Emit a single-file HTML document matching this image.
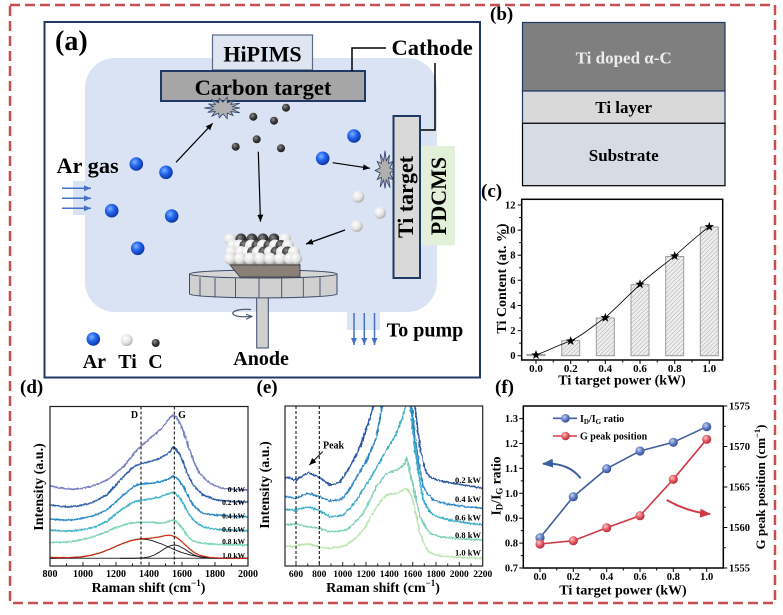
<!DOCTYPE html>
<html><head><meta charset="utf-8">
<style>
html,body{margin:0;padding:0;background:#fff;}
svg{display:block;}
text{font-family:"Liberation Serif","DejaVu Serif",serif;font-weight:bold;}
</style></head><body>
<svg width="783" height="615" viewBox="0 0 783 615" xmlns="http://www.w3.org/2000/svg">
<defs>
 <radialGradient id="gb" cx="0.38" cy="0.35" r="0.7"><stop offset="0" stop-color="#7fb0ff"/><stop offset="0.45" stop-color="#2266ee"/><stop offset="1" stop-color="#0a2f9a"/></radialGradient>
 <radialGradient id="gw" cx="0.38" cy="0.35" r="0.75"><stop offset="0" stop-color="#ffffff"/><stop offset="0.55" stop-color="#e4e4e4"/><stop offset="1" stop-color="#9c9c9c"/></radialGradient>
 <radialGradient id="gd" cx="0.38" cy="0.35" r="0.75"><stop offset="0" stop-color="#8c8c8c"/><stop offset="0.5" stop-color="#3a3a3a"/><stop offset="1" stop-color="#111"/></radialGradient>
 <radialGradient id="fb" cx="0.38" cy="0.35" r="0.75"><stop offset="0" stop-color="#c8d4f0"/><stop offset="0.5" stop-color="#5a78c0"/><stop offset="1" stop-color="#2a4590"/></radialGradient>
 <radialGradient id="fr" cx="0.38" cy="0.35" r="0.75"><stop offset="0" stop-color="#f8c8c8"/><stop offset="0.5" stop-color="#e05560"/><stop offset="1" stop-color="#a82030"/></radialGradient>
 <marker id="ah" markerWidth="8" markerHeight="7" refX="7" refY="3" orient="auto" markerUnits="userSpaceOnUse"><path d="M0,0 L7,3 L0,6 z" fill="#000"/></marker>
 <marker id="ahb" markerWidth="8" markerHeight="7" refX="7" refY="3" orient="auto" markerUnits="userSpaceOnUse"><path d="M0,0 L7,3 L0,6 z" fill="#4472c4"/></marker>
 <marker id="ahs" markerWidth="7" markerHeight="6" refX="6" refY="2.5" orient="auto" markerUnits="userSpaceOnUse"><path d="M0,0 L6,2.5 L0,5" fill="none" stroke="#44546a" stroke-width="1"/></marker>
 <marker id="afb" markerWidth="12" markerHeight="10" refX="10" refY="4.5" orient="auto" markerUnits="userSpaceOnUse"><path d="M0,0 L11,4.5 L0,9 z" fill="#3f5fa0"/></marker>
 <marker id="afr" markerWidth="12" markerHeight="10" refX="10" refY="4.5" orient="auto" markerUnits="userSpaceOnUse"><path d="M0,0 L11,4.5 L0,9 z" fill="#d03a45"/></marker>
 <pattern id="hatch" width="3" height="3" patternUnits="userSpaceOnUse" patternTransform="rotate(45)"><rect width="3" height="3" fill="#eeeeee"/><line x1="0" y1="0" x2="0" y2="3" stroke="#a0a0a0" stroke-width="0.9"/></pattern>
 <clipPath id="cd"><rect x="50" y="406.5" width="198" height="159.5"/></clipPath>
 <clipPath id="ce"><rect x="285" y="406" width="197.7" height="160"/></clipPath>
 <filter id="nzd" filterUnits="userSpaceOnUse" x="40" y="395" width="220" height="180"><feTurbulence type="fractalNoise" baseFrequency="0.6 0.2" numOctaves="2" seed="4" result="t"/><feDisplacementMap in="SourceGraphic" in2="t" scale="2.4" xChannelSelector="R" yChannelSelector="G"/></filter>
 <filter id="nze" filterUnits="userSpaceOnUse" x="275" y="300" width="220" height="275"><feTurbulence type="fractalNoise" baseFrequency="0.6 0.2" numOctaves="2" seed="7" result="t"/><feDisplacementMap in="SourceGraphic" in2="t" scale="3.2" xChannelSelector="R" yChannelSelector="G"/></filter>
 <path id="star" d="M0,-5 L1.18,-1.62 L4.76,-1.55 L1.9,0.62 L2.94,4.05 L0,2 L-2.94,4.05 L-1.9,0.62 L-4.76,-1.55 L-1.18,-1.62 Z"/>
</defs>

<!-- outer dashed border -->
<rect x="10" y="5" width="765" height="598" fill="none" stroke="#c6504f" stroke-width="2.5" stroke-dasharray="10 5"/>

<!-- ================= (a) ================= -->
<rect x="44.5" y="22" width="435.5" height="355.5" fill="#fff" stroke="#1f3864" stroke-width="2"/>
<rect x="85" y="58" width="352" height="254" rx="30" fill="#dae3f3"/>
<rect x="73" y="181" width="14" height="34" fill="#dae3f3"/>
<rect x="347" y="311" width="33" height="19" fill="#dae3f3"/>
<text x="55" y="50" font-size="28">(a)</text>

<g stroke="#4472c4" stroke-width="1.5" marker-end="url(#ahb)">
 <line x1="62" y1="188.3" x2="91" y2="188.3"/>
 <line x1="62" y1="198.3" x2="91" y2="198.3"/>
 <line x1="62" y1="208.3" x2="91" y2="208.3"/>
 <line x1="354" y1="313" x2="354" y2="345"/>
 <line x1="364.3" y1="313" x2="364.3" y2="345"/>
 <line x1="374.5" y1="313" x2="374.5" y2="345"/>
</g>

<rect x="212.5" y="35" width="100" height="35" fill="#dfe6f1" stroke="#5a6a85" stroke-width="1.2"/>
<text x="262.5" y="61.5" font-size="22" text-anchor="middle">HiPIMS</text>
<rect x="161" y="71" width="204" height="30" fill="#a6a6a6" stroke="#1f3864" stroke-width="2"/>
<text x="263" y="95" font-size="22.5" text-anchor="middle">Carbon target</text>
<polyline points="352,71 352,48 386,48" fill="none" stroke="#000" stroke-width="1.5"/>
<polyline points="435,63 435,130 420,130" fill="none" stroke="#000" stroke-width="1.5"/>
<text x="391.5" y="55" font-size="22.5">Cathode</text>
<rect x="421" y="146" width="34" height="99.5" fill="#e2f0d9"/>
<text transform="translate(446,196) rotate(-90)" font-size="22" text-anchor="middle">PDCMS</text>
<rect x="393.5" y="116" width="26.5" height="162" fill="#d9d9d9" stroke="#1f3864" stroke-width="2"/>
<text transform="translate(413,197) rotate(-90)" font-size="22" text-anchor="middle">Ti target</text>

<text x="56.5" y="173" font-size="22.3">Ar gas</text>

<!-- bursts -->
<polygon points="240,108 232.6,109.3 239.8,112.8 230.7,111.6 233.1,115.4 227.3,113.2 227.2,118.7 223,113.8 219.2,117.8 218.7,113.2 211.9,116.2 215.3,111.6 207.7,112.3 213.4,109.3 204.3,108 213.4,106.7 208.4,103.9 215.3,104.4 211.9,99.8 218.7,102.8 219.2,98.3 223,102.2 227.2,97.3 227.3,102.8 233.6,100.2 230.7,104.4 239.8,103.2 232.6,106.7" fill="#b0b0b0" stroke="#30406a" stroke-width="0.8"/>
<polygon points="394,170.5 389.8,173.1 393.2,180 388.5,177.5 390,187.6 386.3,180.1 385,188.5 383.7,180.1 380.3,186.9 381.5,177.5 377.2,179.5 380.2,173.1 375.1,170.5 380.2,167.9 377.2,161.5 381.5,163.5 380.3,154.1 383.7,160.9 385,150.7 386.3,160.9 389.5,154.9 388.5,163.5 393.2,161 389.8,167.9" fill="#b0b0b0" stroke="#30406a" stroke-width="0.8"/>

<!-- arrows -->
<g stroke="#000" stroke-width="1.2" marker-end="url(#ah)">
 <line x1="176" y1="162.3" x2="212.7" y2="123.3"/>
 <line x1="258.3" y1="151.7" x2="260.5" y2="221.7"/>
 <line x1="332.7" y1="162.7" x2="370" y2="168.3"/>
 <line x1="345" y1="230" x2="306" y2="244"/>
</g>

<!-- balls -->
<g fill="url(#gb)">
 <circle cx="136.3" cy="164" r="6.8"/><circle cx="166" cy="172.3" r="6.8"/><circle cx="111.7" cy="210.7" r="6.8"/>
 <circle cx="171.7" cy="216" r="6.8"/><circle cx="137.7" cy="248.3" r="6.8"/><circle cx="354" cy="136" r="6.8"/>
 <circle cx="322.7" cy="158.3" r="6.8"/><circle cx="93.3" cy="339" r="6.8"/>
</g>
<g fill="url(#gd)">
 <circle cx="253.3" cy="116.7" r="4"/><circle cx="274" cy="120.7" r="4"/><circle cx="286" cy="107.7" r="4"/>
 <circle cx="256.7" cy="139.3" r="4"/><circle cx="235.7" cy="146.7" r="4"/><circle cx="281" cy="148.3" r="4"/>
 <circle cx="155.7" cy="343" r="4"/>
</g>
<g fill="url(#gw)">
 <circle cx="358.3" cy="196.7" r="6"/><circle cx="380" cy="212.7" r="6"/><circle cx="356.7" cy="226" r="6"/>
 <circle cx="126.7" cy="340" r="6"/>
</g>

<!-- substrate holder -->
<rect x="256.7" y="296" width="11.6" height="52" fill="#d0d0d0" stroke="#3a4a6a" stroke-width="1"/>
<path d="M189.5,274 L189.5,294 A73.8,4 0 0 0 337,294 L337,274" fill="#d0d0d0" stroke="#3a4a6a" stroke-width="1"/>
<ellipse cx="263.3" cy="274" rx="73.8" ry="4" fill="#d6d6d6" stroke="#3a4a6a" stroke-width="1"/>
<g stroke="#3a4a6a" stroke-width="0.9">
 <line x1="200" y1="277.5" x2="200" y2="296.5"/><line x1="215" y1="278" x2="215" y2="297.5"/>
 <line x1="235.5" y1="278" x2="235.5" y2="298"/><line x1="259" y1="278" x2="259" y2="298"/>
 <line x1="281.7" y1="278" x2="281.7" y2="298"/><line x1="303.3" y1="278" x2="303.3" y2="297.5"/>
 <line x1="320" y1="277.5" x2="320" y2="296.5"/>
</g>
<path d="M251,309.5 C230,308 226,316.8 245,316.8 L252,316.4" fill="none" stroke="#44546a" stroke-width="1.2" marker-end="url(#ahs)"/>
<polygon points="225,259 296,259 300,265 232,265" fill="#a39b93" stroke="#333" stroke-width="0.8"/>
<polygon points="232,265 300,265 300,277 240,277 225,259" fill="#8b8077" stroke="#333" stroke-width="0.8"/>
<!-- cluster -->
<g>
 <circle cx="230" cy="239" r="6" fill="url(#gw)"/><circle cx="241" cy="239" r="5.5" fill="url(#gd)"/><circle cx="252" cy="239" r="5.5" fill="url(#gd)"/><circle cx="263" cy="239" r="5.5" fill="url(#gd)"/><circle cx="274" cy="239" r="5.5" fill="url(#gd)"/><circle cx="285" cy="239" r="6" fill="url(#gw)"/>
 <circle cx="233" cy="245.5" r="6" fill="url(#gw)"/><circle cx="239" cy="245.5" r="6" fill="url(#gw)"/><circle cx="245" cy="245.5" r="5.5" fill="url(#gd)"/><circle cx="251" cy="245.5" r="6" fill="url(#gw)"/><circle cx="257" cy="245.5" r="5.5" fill="url(#gd)"/><circle cx="263" cy="245.5" r="6" fill="url(#gw)"/><circle cx="269" cy="245.5" r="5.5" fill="url(#gd)"/><circle cx="275" cy="245.5" r="6" fill="url(#gw)"/><circle cx="281" cy="245.5" r="5.5" fill="url(#gd)"/><circle cx="288" cy="245.5" r="6" fill="url(#gw)"/>
 <circle cx="231" cy="252" r="6" fill="url(#gw)"/><circle cx="241" cy="252" r="6" fill="url(#gw)"/><circle cx="247" cy="252" r="6" fill="url(#gw)"/><circle cx="252.7" cy="252" r="5.5" fill="url(#gd)"/><circle cx="258" cy="252" r="6" fill="url(#gw)"/><circle cx="264" cy="252" r="5.5" fill="url(#gd)"/><circle cx="270" cy="252" r="6" fill="url(#gw)"/><circle cx="276" cy="252" r="5.5" fill="url(#gd)"/><circle cx="282" cy="252" r="6" fill="url(#gw)"/><circle cx="287.5" cy="252" r="5.5" fill="url(#gd)"/><circle cx="294" cy="252" r="6" fill="url(#gw)"/>
 <circle cx="230" cy="258.5" r="6" fill="url(#gw)"/><circle cx="240" cy="258.5" r="6" fill="url(#gw)"/><circle cx="250" cy="258.5" r="6" fill="url(#gw)"/><circle cx="260" cy="258.5" r="6" fill="url(#gw)"/><circle cx="270" cy="258.5" r="6" fill="url(#gw)"/><circle cx="280" cy="258.5" r="6" fill="url(#gw)"/><circle cx="290" cy="258.5" r="6" fill="url(#gw)"/><circle cx="296" cy="258.5" r="6" fill="url(#gw)"/>
</g>

<text x="82.7" y="368" font-size="20">Ar</text>
<text x="118.3" y="368" font-size="20">Ti</text>
<text x="148.3" y="368" font-size="20">C</text>
<text x="233.3" y="365" font-size="20">Anode</text>
<text x="386.7" y="336.7" font-size="20">To pump</text>

<!-- ================= (b) ================= -->
<text x="490" y="20" font-size="19">(b)</text>
<rect x="522.5" y="22.5" width="202.5" height="68.5" fill="#7f7f7f" stroke="#1f3864" stroke-width="1.2"/>
<rect x="522.5" y="91" width="202.5" height="32.3" fill="#d9d9d9" stroke="#1f3864" stroke-width="1.2"/>
<rect x="522.5" y="123.3" width="202.5" height="62.4" fill="#d6dce4" stroke="#000" stroke-width="1.2"/>
<text x="623.7" y="63.5" font-size="17" fill="#ececec" text-anchor="middle">Ti doped α-C</text>
<text x="623.7" y="113" font-size="17" text-anchor="middle">Ti layer</text>
<text x="623.7" y="161" font-size="17" text-anchor="middle">Substrate</text>

<!-- ================= (c) ================= -->
<text x="481" y="197" font-size="19">(c)</text>
<g fill="url(#hatch)" stroke="#9c9c9c" stroke-width="1">
 <rect x="527" y="354.4" width="18" height="1.3"/>
 <rect x="561.7" y="340.6" width="18" height="15.1"/>
 <rect x="596.3" y="318" width="18" height="37.7"/>
 <rect x="631" y="284.7" width="18" height="71"/>
 <rect x="665.7" y="256.5" width="18" height="99.2"/>
 <rect x="700.3" y="227" width="18" height="128.7"/>
</g>
<path d="M536,355 C550,350 558,345 570.7,341 C585,334 595,324 605.3,317.7 C618,306 630,294 640,284.3 C652,273 664,265 674.7,256 C688,244 698,235 709.3,226.7" fill="none" stroke="#000" stroke-width="0.8"/>
<g fill="#000">
 <use href="#star" x="536" y="355"/><use href="#star" x="570.7" y="341"/><use href="#star" x="605.3" y="317.7"/>
 <use href="#star" x="640" y="284.3"/><use href="#star" x="674.7" y="256"/><use href="#star" x="709.3" y="226.7"/>
</g>
<rect x="521.7" y="199.3" width="201" height="160.7" fill="none" stroke="#000" stroke-width="1.5"/>
<path d="M521.7,355.7h-4M521.7,330.6h-4M521.7,305.5h-4M521.7,280.3h-4M521.7,255.2h-4M521.7,230.1h-4M521.7,205h-4M521.7,343.1h-2.5M521.7,318h-2.5M521.7,292.9h-2.5M521.7,267.8h-2.5M521.7,242.6h-2.5M521.7,217.5h-2.5M536,360v4M570.7,360v4M605.3,360v4M640,360v4M674.7,360v4M709.3,360v4M553.3,360v2.5M588,360v2.5M622.7,360v2.5M657.3,360v2.5M692,360v2.5" stroke="#000" stroke-width="1"/>
<g font-size="10.5" text-anchor="end">
 <text x="515.5" y="359.2">0</text><text x="515.5" y="334.1">2</text><text x="515.5" y="309">4</text>
 <text x="515.5" y="283.8">6</text><text x="515.5" y="258.7">8</text><text x="515.5" y="233.6">10</text><text x="515.5" y="208.5">12</text>
</g>
<g font-size="11" text-anchor="middle">
 <text x="536" y="372">0.0</text><text x="570.7" y="372">0.2</text><text x="605.3" y="372">0.4</text>
 <text x="640" y="372">0.6</text><text x="674.7" y="372">0.8</text><text x="709.3" y="372">1.0</text>
</g>
<text x="622" y="384.5" font-size="14" text-anchor="middle">Ti target power (kW)</text>
<text transform="translate(506,278.5) rotate(-90)" font-size="14" text-anchor="middle">Ti Content (at. %)</text>

<!-- ================= (d) ================= -->
<text x="20" y="393" font-size="19">(d)</text>
<g clip-path="url(#cd)">
 <g filter="url(#nzd)" fill="none" stroke-width="1.7" stroke-linejoin="round">
  <polyline stroke="#7a7fc2" points="50,485.7 60,488 71.7,489.3 80,488.6 90,486.7 98,484 106.7,480 115,474 123.3,466.7 130,458.5 136.7,450 143,444.5 150,438.3 155,434.3 160,430 164,425.5 168.3,420 171,416.5 173.3,415 176.5,417.5 180,423.3 183.5,432 186.7,441.7 190,451 193.3,460 196.5,467.5 200,473.3 205,479 210,483.3 216,486.3 223.3,488.3 235,489.5 248,490"/>
  <polyline stroke="#2e5eab" points="50,505 60,506.3 71.7,506.7 80,505.5 90,503.3 98,499.8 106.7,495 115,486 123.3,476.7 130,470 136.7,465 143,463 150,461.7 155,460 160,458.3 165,455.5 170,451.7 173.3,447.3 176.5,449.5 180,455 183.5,463 186.7,471.7 190,479 193.3,485 198,490.5 203.3,495 210,498 216.7,500 230,501.5 248,502.3"/>
  <polyline stroke="#2a8bc8" points="50,519 60,519.8 71.7,520 80,518.8 90,516.7 98,514 106.7,510 115,502.5 123.3,495 130,489.5 136.7,485 143,484 150,483.3 155,482.5 160,481.7 165,480.3 170,478.3 173.3,475.7 176.5,477.5 180,481.7 183.5,487 186.7,493.3 190,499.5 193.3,505 198,509.5 203.3,513.3 210,514.5 216.7,515 230,516 248,516.7"/>
  <polyline stroke="#3fb3c9" points="50,530 60,530.8 71.7,531 80,530 90,528.3 98,525.5 106.7,521.7 115,514.5 123.3,508.3 130,504 136.7,501 143,500 150,499 155,498 160,496.7 165,495 170,493.3 173.3,492.3 176.5,494.5 180,498.3 183.5,504 186.7,510 190,515.5 193.3,520 198,523.8 203.3,526.7 210,528.3 216.7,529.3 230,530 248,530.7"/>
  <polyline stroke="#80d3bd" points="50,542.7 60,542.2 71.7,541.7 80,540 90,537.7 98,535 106.7,531.7 115,528 123.3,525 130,523.3 136.7,522.3 143,522.2 150,522.3 155,523 160,523.3 165,522.3 170,521 173.3,520 176.5,521.8 180,525 183.5,530 186.7,535 190,538.5 193.3,541 198,542.5 203.3,543.3 210,543.9 216.7,544.3 230,544.7 248,545"/>
  <polyline stroke="#b8e6aa" points="50,557.4 60,557.6 70,557.5 80,556.9 90,555.5 100,552.9 110,549 120,544.6 130,540.8 140,538.8 150,538.3 160,536.8 165,535.6 170,535.25 175,536.6 180,540 185,544.6 190,549.3 195,553 200,555.4 210,557.5 220,558.1 248,558.3"/>
 </g>
 <g fill="none" stroke-linejoin="round">
  <line x1="50" y1="558.3" x2="248" y2="558.3" stroke="#333" stroke-width="1"/>
  <polyline stroke="#111" stroke-width="0.9" points="50,558.3 61.5,558.1 71.5,557.8 81.5,557 91.5,555.3 101.5,552.4 111.5,548.4 121.5,543.9 131.5,540.4 136.5,539.4 141.5,539 146.5,539.4 151.5,540.4 161.5,543.9 171.5,548.4 181.5,552.4 191.5,555.3 201.5,557 211.5,557.8 221.5,558.1 248,558.3"/>
  <polyline stroke="#111" stroke-width="0.9" points="120,558.3 134.3,558.25 139.3,558.1 144.3,557.7 149.3,556.8 154.3,555 159.3,552.2 164.3,548.9 169.3,546.1 171.8,545.3 174.3,545 176.8,545.3 179.3,546.1 184.3,548.9 189.3,552.2 194.3,555 199.3,556.8 204.3,557.7 209.3,558.1 214.3,558.25 248,558.3"/>
  <polyline stroke="#e02020" stroke-width="1.1" points="50,557.4 60,557.6 70,557.5 80,556.9 90,555.5 100,552.9 110,549 120,544.6 130,540.8 140,538.8 150,538.3 160,536.8 165,535.6 170,535.25 175,536.6 180,540 185,544.6 190,549.3 195,553 200,555.4 210,557.5 220,558.1 248,558.3"/>
 </g>
</g>
<g stroke="#000" stroke-width="1" stroke-dasharray="3 2">
 <line x1="141" y1="406.5" x2="141" y2="566"/><line x1="174.3" y1="406.5" x2="174.3" y2="566"/>
</g>
<text x="134.5" y="418" font-size="10" text-anchor="middle">D</text>
<text x="182" y="418" font-size="10" text-anchor="middle">G</text>
<g font-size="7.5" text-anchor="end">
 <text x="245" y="492">0 kW</text><text x="245" y="505.2">0.2 kW</text><text x="245" y="518.5">0.4 kW</text>
 <text x="245" y="531.8">0.6 kW</text><text x="245" y="544.2">0.8 kW</text><text x="245" y="558.2">1.0 kW</text>
</g>
<rect x="50" y="406.5" width="198" height="159.5" fill="none" stroke="#222" stroke-width="1.2"/>
<path d="M50,566v-4M83,566v-4M116,566v-4M149,566v-4M182,566v-4M215,566v-4M248,566v-4M66.5,566v-2.5M99.5,566v-2.5M132.5,566v-2.5M165.5,566v-2.5M198.5,566v-2.5M231.5,566v-2.5" stroke="#222" stroke-width="1"/>
<g font-size="10" text-anchor="middle">
 <text x="50" y="577">800</text><text x="83" y="577">1000</text><text x="116" y="577">1200</text><text x="149" y="577">1400</text>
 <text x="182" y="577">1600</text><text x="215" y="577">1800</text><text x="248" y="577">2000</text>
</g>
<text x="148.5" y="592" font-size="14" text-anchor="middle">Raman shift (cm<tspan font-size="9" dy="-6">−1</tspan><tspan dy="6">)</tspan></text>
<text transform="translate(43,487) rotate(-90)" font-size="14" text-anchor="middle">Intensity (a.u.)</text>

<!-- ================= (e) ================= -->
<text x="256.5" y="393" font-size="19">(e)</text>
<g clip-path="url(#ce)">
 <g filter="url(#nze)" fill="none" stroke-width="1.7" stroke-linejoin="round">
  <polyline stroke="#bde5b0" points="285,546.7 296,546 302,544.5 308.3,544 314,545.3 319.3,546.7 325,547.8 330,548.3 338,547.2 346.7,545 355,538.5 363.3,530 370,518.5 376.7,506.7 382,499.5 386.7,495 392,493.8 396.7,493.3 401,491.5 404,489 406,488.3 409,491.5 411.7,496.7 416,514 420,533.3 424,543.5 428.3,551.7 436,555 446.7,556.7 465,557.7 482.7,558.3"/>
  <polyline stroke="#7fd0ba" points="285,525 296,524 302,525.3 308.3,526.7 314,527.5 319.3,528.3 325,530.2 330,531.7 338,531.2 346.7,530 355,522.5 363.3,513.3 370,500 376.7,486.7 382,478.8 386.7,473.3 392,471.3 396.7,470 401,467.5 405,463.3 406.5,457 409,467.5 411.7,480 416,499 420,516.7 425,526 430,533.3 440,536.5 453.3,538.3 468,539.3 482.7,540"/>
  <polyline stroke="#38afc6" points="285,509.3 296,510 302,508.2 308.3,506.7 314,508.7 319.3,510.7 325,514 330,516.7 337,516.3 343.3,515 350,508 356.7,500 365,486.5 373.3,473.3 380,461.5 386.7,450 392,441.2 396.7,433.3 399,427 401.7,420 404,412 406,405 408,398 410.5,406.7 412.5,427 415,450 419,476 423.3,500 428,508.5 433.3,515 443,518.5 453.3,520.7 468,523 482.7,525"/>
  <polyline stroke="#2d86c6" points="285,496.7 296,498.3 302,495.5 308.3,493.3 314,495 319.3,496.7 325,499 330,500.7 336,500.3 341.7,499.3 347.5,492 353.3,483.3 360,471.5 366.7,460 372,448.5 376.7,436.7 379,423 381.7,406.7 386,385 395,355 405,365 410,392 411.7,406.7 414,428 416.7,450 420,470 423.3,486.7 428,494.5 433.3,500 443,503.2 453.3,505 468,506.8 482.7,508.3"/>
  <polyline stroke="#2a57a6" points="285,477.3 290,478.5 296,480 302,476 308.3,472.7 314,475 319.3,477.3 325,481.5 330,485 335,483.8 340,481.7 345,474.5 350,466.7 355,457 360,446.7 364,435.5 368.3,423.3 371,414.5 373.3,406.7 376.7,386.7 385,330 400,320 410,360 413.3,386.7 415,406.7 417.5,428 420,446.7 423.3,462 426.7,473.3 431,477.5 436.7,480 445,482 453.3,483.3 468,485.8 482.7,488.3"/>
 </g>
</g>
<g stroke="#000" stroke-width="1" stroke-dasharray="3 2">
 <line x1="296" y1="406" x2="296" y2="566"/><line x1="319.3" y1="406" x2="319.3" y2="566"/>
</g>
<text x="323" y="448.5" font-size="10">Peak</text>
<line x1="322.7" y1="451.7" x2="309.3" y2="465" stroke="#000" stroke-width="1" marker-end="url(#ah)"/>
<g font-size="8.5" text-anchor="end">
 <text x="481" y="483">0.2 kW</text><text x="481" y="502">0.4 kW</text><text x="481" y="520.7">0.6 kW</text>
 <text x="481" y="538">0.8 kW</text><text x="481" y="555.7">1.0 kW</text>
</g>
<rect x="285" y="406" width="197.7" height="160" fill="none" stroke="#222" stroke-width="1.2"/>
<path d="M296,566v-4M319.3,566v-4M342.7,566v-4M366,566v-4M389.3,566v-4M412.7,566v-4M436,566v-4M459.3,566v-4M307.7,566v-2.5M331,566v-2.5M354.3,566v-2.5M377.7,566v-2.5M401,566v-2.5M424.3,566v-2.5M447.7,566v-2.5M471,566v-2.5" stroke="#222" stroke-width="1"/>
<g font-size="9.5" text-anchor="middle">
 <text x="296" y="577">600</text><text x="319.3" y="577">800</text><text x="342.7" y="577">1000</text><text x="366" y="577">1200</text>
 <text x="389.3" y="577">1400</text><text x="412.7" y="577">1600</text><text x="436" y="577">1800</text><text x="459.3" y="577">2000</text><text x="482.7" y="577">2200</text>
</g>
<text x="383" y="592" font-size="14" text-anchor="middle">Raman shift (cm<tspan font-size="9" dy="-6">−1</tspan><tspan dy="6">)</tspan></text>
<text transform="translate(269,485) rotate(-90)" font-size="14" text-anchor="middle">Intensity (a.u.)</text>

<!-- ================= (f) ================= -->
<text x="495" y="393" font-size="19">(f)</text>
<rect x="523.3" y="406" width="200" height="162" fill="none" stroke="#000" stroke-width="1.5"/>
<path d="M523.3,568h-4M523.3,543.1h-4M523.3,518.2h-4M523.3,493.3h-4M523.3,468.4h-4M523.3,443.5h-4M523.3,418.6h-4M523.3,555.6h-2.5M523.3,530.6h-2.5M523.3,505.8h-2.5M523.3,480.9h-2.5M523.3,456h-2.5M523.3,431.1h-2.5M723.3,568h4M723.3,527.5h4M723.3,487h4M723.3,446.5h4M723.3,406h4M723.3,547.8h2.5M723.3,507.3h2.5M723.3,466.8h2.5M723.3,426.3h2.5M540,568v4M573.3,568v4M606.7,568v4M640,568v4M673.3,568v4M706.7,568v4M556.7,568v2.5M590,568v2.5M623.3,568v2.5M656.7,568v2.5M690,568v2.5" stroke="#000" stroke-width="1"/>
<g font-size="10.5" text-anchor="end">
 <text x="518" y="571.5">0.7</text><text x="518" y="546.6">0.8</text><text x="518" y="521.7">0.9</text>
 <text x="518" y="496.8">1.0</text><text x="518" y="471.9">1.1</text><text x="518" y="447">1.2</text><text x="518" y="422.1">1.3</text>
</g>
<g font-size="10.5">
 <text x="729" y="571.5">1555</text><text x="729" y="531">1560</text><text x="729" y="490.5">1565</text>
 <text x="729" y="450">1570</text><text x="729" y="409.5">1575</text>
</g>
<g font-size="10.5" text-anchor="middle">
 <text x="540" y="580">0.0</text><text x="573.3" y="580">0.2</text><text x="606.7" y="580">0.4</text>
 <text x="640" y="580">0.6</text><text x="673.3" y="580">0.8</text><text x="706.7" y="580">1.0</text>
</g>
<text x="623" y="594.5" font-size="14" text-anchor="middle">Ti target power (kW)</text>
<text transform="translate(500.5,486) rotate(-90)" font-size="13.5" text-anchor="middle">I<tspan font-size="9" dy="2">D</tspan><tspan dy="-2">/I</tspan><tspan font-size="9" dy="2">G</tspan><tspan dy="-2"> ratio</tspan></text>
<text transform="translate(765,487) rotate(-90)" font-size="13" text-anchor="middle">G peak position (cm<tspan font-size="8.5" dy="-5">−1</tspan><tspan dy="5">)</tspan></text>

<polyline points="540,537.7 573.3,496.7 606.7,468.7 640,451 673.3,442.3 706.7,426.7" fill="none" stroke="#3f5fa0" stroke-width="1.6"/>
<polyline points="540,544 573.3,540.7 606.7,527.7 640,515.7 673.3,479.3 706.7,439.3" fill="none" stroke="#d03a45" stroke-width="1.6"/>
<g fill="url(#fb)">
 <circle cx="540" cy="537.7" r="4.6"/><circle cx="573.3" cy="496.7" r="4.6"/><circle cx="606.7" cy="468.7" r="4.6"/>
 <circle cx="640" cy="451" r="4.6"/><circle cx="673.3" cy="442.3" r="4.6"/><circle cx="706.7" cy="426.7" r="4.6"/>
</g>
<g fill="url(#fr)">
 <circle cx="540" cy="544" r="4.6"/><circle cx="573.3" cy="540.7" r="4.6"/><circle cx="606.7" cy="527.7" r="4.6"/>
 <circle cx="640" cy="515.7" r="4.6"/><circle cx="673.3" cy="479.3" r="4.6"/><circle cx="706.7" cy="439.3" r="4.6"/>
</g>
<line x1="553" y1="418.3" x2="577" y2="418.3" stroke="#3f5fa0" stroke-width="1.6"/>
<circle cx="565.5" cy="418.3" r="4.3" fill="url(#fb)"/>
<text x="580" y="421.8" font-size="10">I<tspan font-size="7" dy="2">D</tspan><tspan dy="-2">/I</tspan><tspan font-size="7" dy="2">G</tspan><tspan dy="-2"> ratio</tspan></text>
<line x1="553" y1="436" x2="577" y2="436" stroke="#d03a45" stroke-width="1.6"/>
<circle cx="565.5" cy="436" r="4.3" fill="url(#fr)"/>
<text x="580" y="439.5" font-size="10">G peak position</text>
<path d="M580.7,478.3 Q568,462 543,463.8" fill="none" stroke="#3f5fa0" stroke-width="2" marker-end="url(#afb)"/>
<path d="M666.7,500 Q688,512 710,514" fill="none" stroke="#d03a45" stroke-width="2" marker-end="url(#afr)"/>
</svg>
</body></html>
